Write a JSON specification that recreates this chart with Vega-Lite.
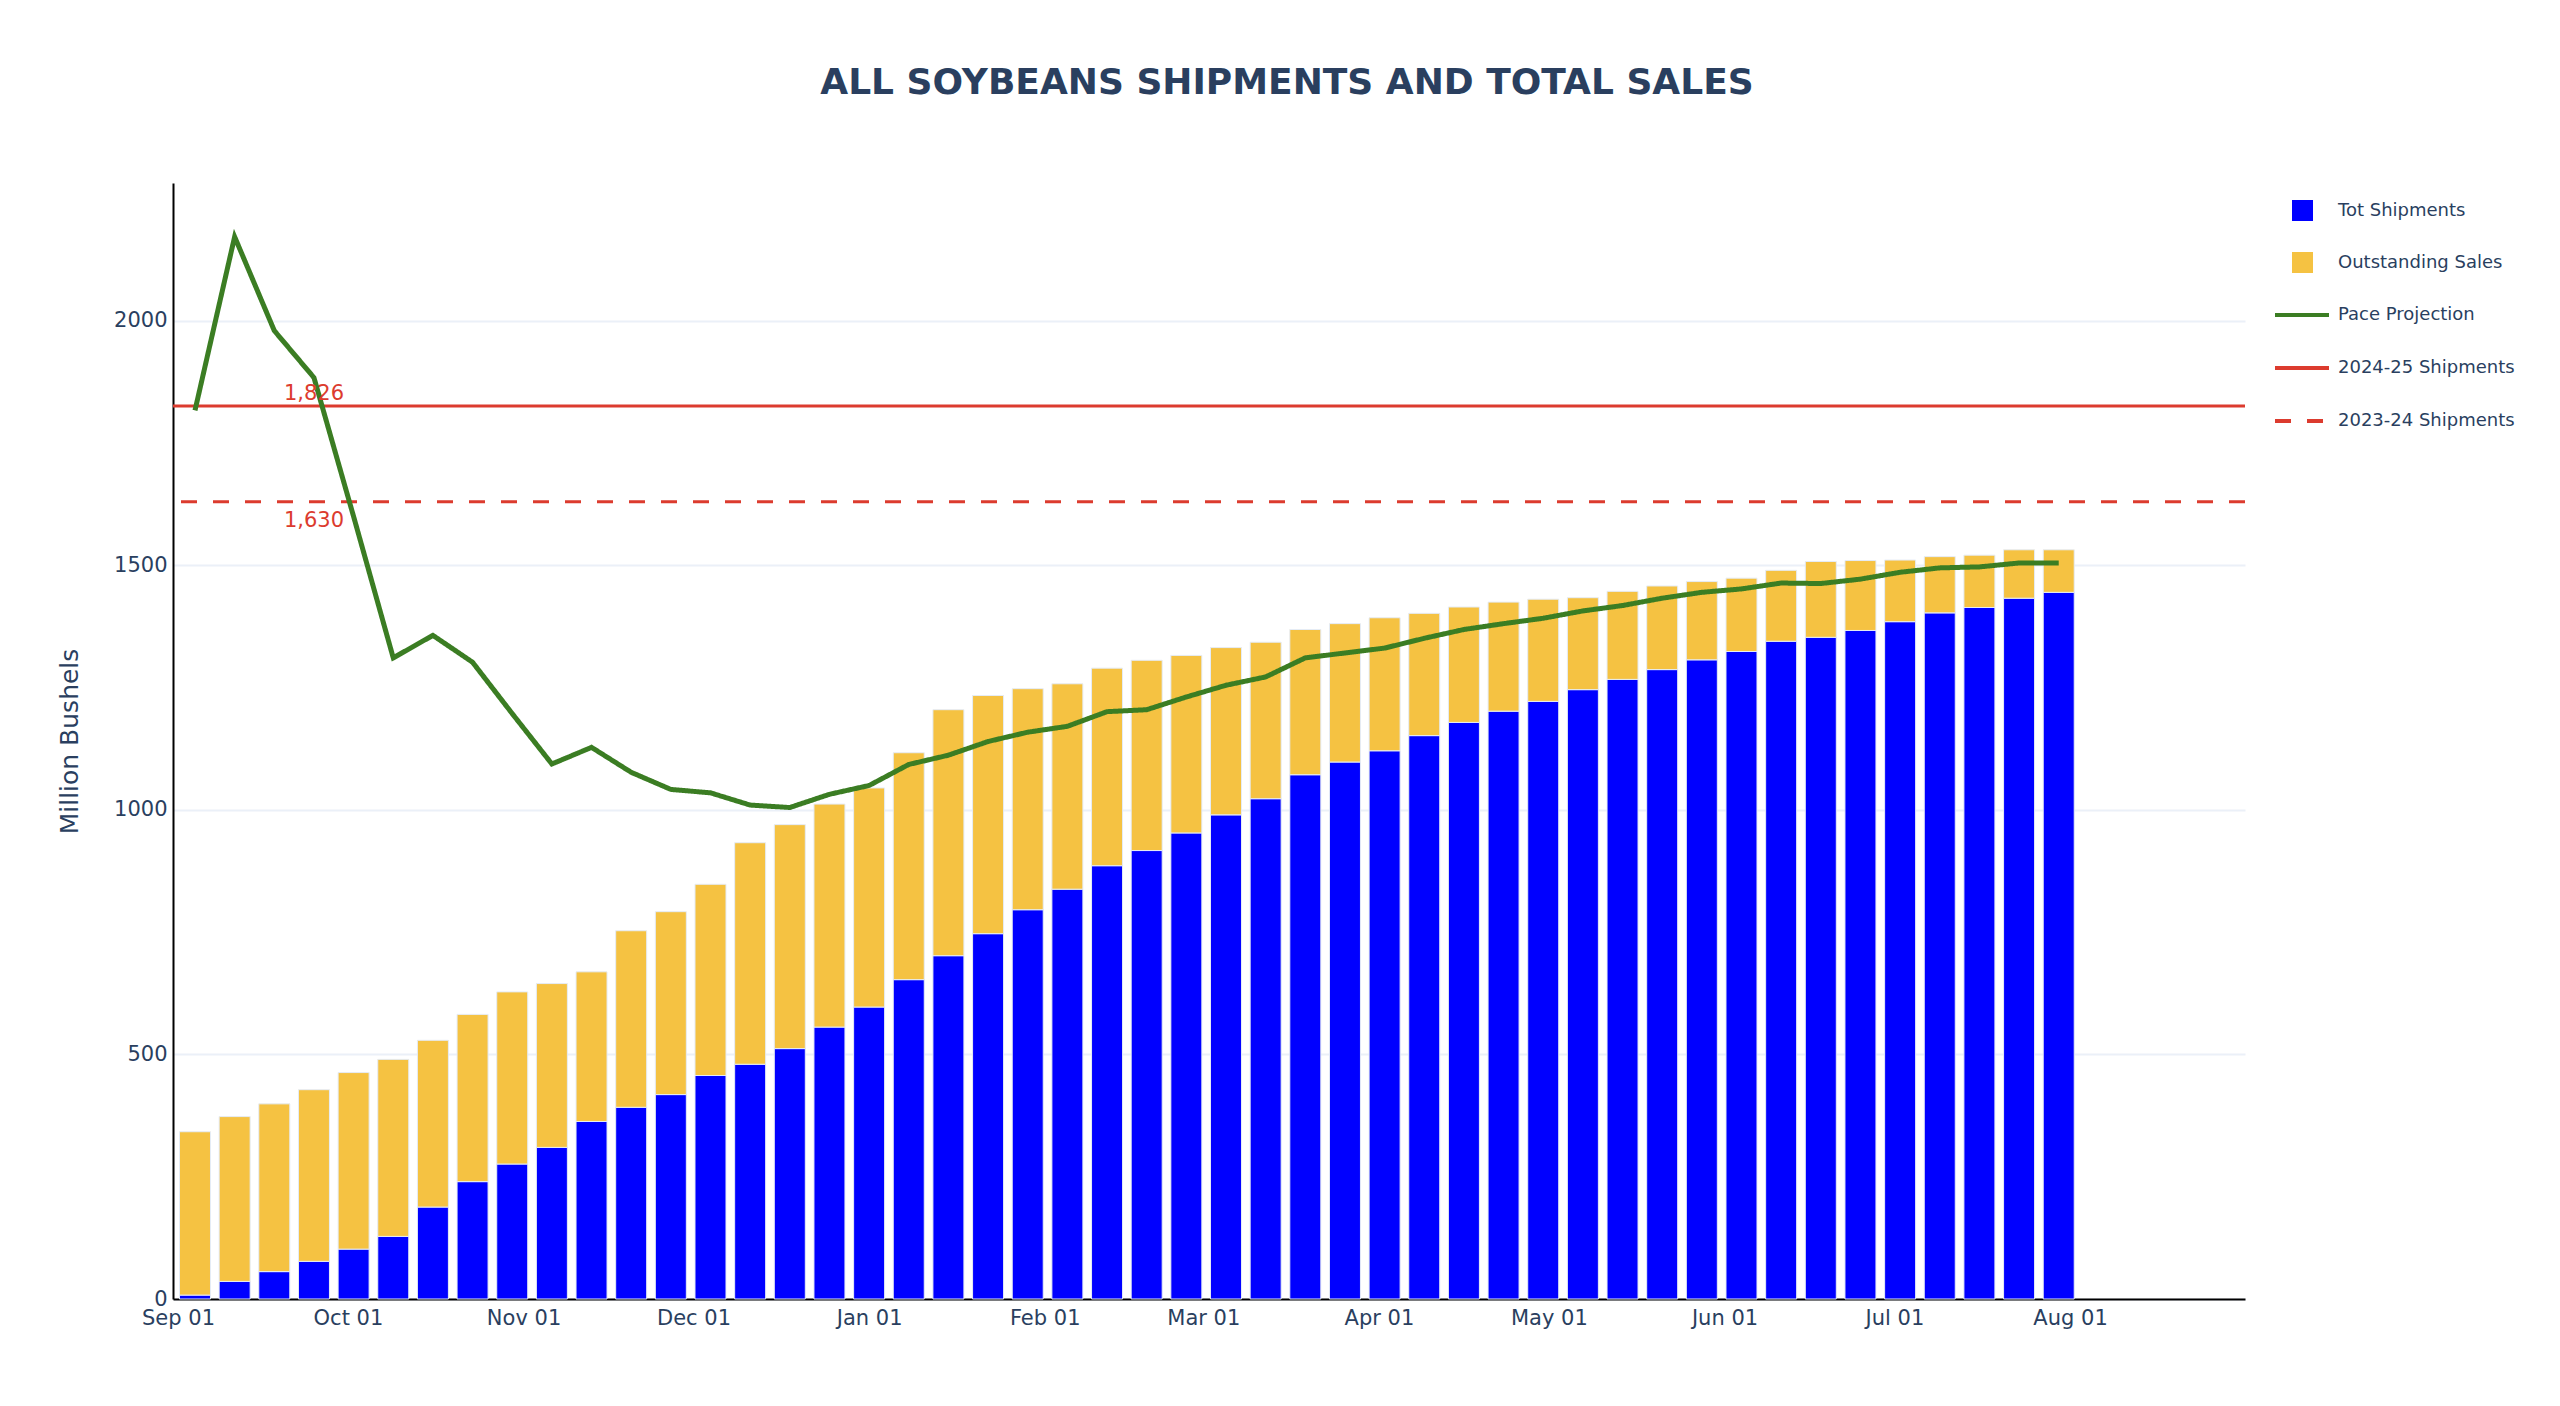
{
  "$schema": "https://vega.github.io/schema/vega-lite/v6.json",
  "width": 2072,
  "height": 1116,
  "autosize": {"type": "none"},
  "padding": {"left": 173, "top": 183, "right": 315, "bottom": 107},
  "background": "white",
  "title": {"text": "ALL SOYBEANS SHIPMENTS AND TOTAL SALES", "font": "DejaVu Sans", "fontSize": 36, "fontWeight": "bold", "color": "#2a3f5f", "anchor": "middle", "dx": 78, "offset": 81},
  "config": {"view": {"stroke": null}, "font": "DejaVu Sans"},
  "datasets": {
    "weekly": [
      {"date": "2024-09-04", "tot_shipments": 8, "total_sales": 342, "pace": 1817},
      {"date": "2024-09-11", "tot_shipments": 36, "total_sales": 373, "pace": 2172},
      {"date": "2024-09-18", "tot_shipments": 56, "total_sales": 399, "pace": 1980},
      {"date": "2024-09-25", "tot_shipments": 77, "total_sales": 428, "pace": 1884},
      {"date": "2024-10-02", "tot_shipments": 102, "total_sales": 463, "pace": 1600},
      {"date": "2024-10-09", "tot_shipments": 128, "total_sales": 490, "pace": 1311},
      {"date": "2024-10-16", "tot_shipments": 188, "total_sales": 529, "pace": 1357},
      {"date": "2024-10-23", "tot_shipments": 240, "total_sales": 582, "pace": 1302},
      {"date": "2024-10-30", "tot_shipments": 276, "total_sales": 628, "pace": 1197},
      {"date": "2024-11-06", "tot_shipments": 310, "total_sales": 645, "pace": 1094},
      {"date": "2024-11-13", "tot_shipments": 363, "total_sales": 669, "pace": 1128},
      {"date": "2024-11-20", "tot_shipments": 392, "total_sales": 753, "pace": 1077},
      {"date": "2024-11-27", "tot_shipments": 418, "total_sales": 792, "pace": 1042},
      {"date": "2024-12-04", "tot_shipments": 457, "total_sales": 848, "pace": 1035},
      {"date": "2024-12-11", "tot_shipments": 480, "total_sales": 933, "pace": 1010},
      {"date": "2024-12-18", "tot_shipments": 512, "total_sales": 970, "pace": 1005},
      {"date": "2024-12-25", "tot_shipments": 556, "total_sales": 1012, "pace": 1032},
      {"date": "2025-01-01", "tot_shipments": 597, "total_sales": 1045, "pace": 1050},
      {"date": "2025-01-08", "tot_shipments": 653, "total_sales": 1117, "pace": 1093},
      {"date": "2025-01-15", "tot_shipments": 702, "total_sales": 1205, "pace": 1112},
      {"date": "2025-01-22", "tot_shipments": 747, "total_sales": 1234, "pace": 1140},
      {"date": "2025-01-29", "tot_shipments": 796, "total_sales": 1248, "pace": 1159},
      {"date": "2025-02-05", "tot_shipments": 838, "total_sales": 1258, "pace": 1171},
      {"date": "2025-02-12", "tot_shipments": 886, "total_sales": 1290, "pace": 1201},
      {"date": "2025-02-19", "tot_shipments": 917, "total_sales": 1306, "pace": 1205},
      {"date": "2025-02-26", "tot_shipments": 953, "total_sales": 1316, "pace": 1231},
      {"date": "2025-03-05", "tot_shipments": 990, "total_sales": 1332, "pace": 1255},
      {"date": "2025-03-12", "tot_shipments": 1023, "total_sales": 1343, "pace": 1272},
      {"date": "2025-03-19", "tot_shipments": 1072, "total_sales": 1369, "pace": 1311},
      {"date": "2025-03-26", "tot_shipments": 1098, "total_sales": 1381, "pace": 1321},
      {"date": "2025-04-02", "tot_shipments": 1121, "total_sales": 1393, "pace": 1331},
      {"date": "2025-04-09", "tot_shipments": 1152, "total_sales": 1402, "pace": 1351},
      {"date": "2025-04-16", "tot_shipments": 1179, "total_sales": 1415, "pace": 1369},
      {"date": "2025-04-23", "tot_shipments": 1202, "total_sales": 1425, "pace": 1381},
      {"date": "2025-04-30", "tot_shipments": 1222, "total_sales": 1431, "pace": 1392},
      {"date": "2025-05-07", "tot_shipments": 1246, "total_sales": 1434, "pace": 1407},
      {"date": "2025-05-14", "tot_shipments": 1267, "total_sales": 1447, "pace": 1418},
      {"date": "2025-05-21", "tot_shipments": 1287, "total_sales": 1458, "pace": 1433},
      {"date": "2025-05-28", "tot_shipments": 1307, "total_sales": 1467, "pace": 1445},
      {"date": "2025-06-04", "tot_shipments": 1324, "total_sales": 1474, "pace": 1452},
      {"date": "2025-06-11", "tot_shipments": 1345, "total_sales": 1490, "pace": 1464},
      {"date": "2025-06-18", "tot_shipments": 1353, "total_sales": 1508, "pace": 1463},
      {"date": "2025-06-25", "tot_shipments": 1367, "total_sales": 1510, "pace": 1472},
      {"date": "2025-07-02", "tot_shipments": 1385, "total_sales": 1511, "pace": 1486},
      {"date": "2025-07-09", "tot_shipments": 1403, "total_sales": 1518, "pace": 1495},
      {"date": "2025-07-16", "tot_shipments": 1414, "total_sales": 1521, "pace": 1497},
      {"date": "2025-07-23", "tot_shipments": 1433, "total_sales": 1532, "pace": 1505},
      {"date": "2025-07-30", "tot_shipments": 1445, "total_sales": 1532, "pace": 1505}
    ],
    "refs": [
      {"series": "2024-25 Shipments", "value": 1826, "at": "2024-09-25"},
      {"series": "2023-24 Shipments", "value": 1630, "at": "2024-09-25"}
    ]
  },
  "layer": [
    {
      "data": {"name": "weekly"},
      "mark": {"type": "bar", "size": 31, "stroke": "#E5ECF6", "strokeWidth": 1},
      "encoding": {
        "x": {
          "field": "date", "type": "temporal",
          "scale": {"type": "utc", "domain": [{"year": 2024, "month": 9, "date": 1, "utc": true}, {"year": 2025, "month": 8, "date": 31, "utc": true}]},
          "axis": {"format": "%b %d", "tickCount": "month", "labelFlush": false, "labelOverlap": false, "ticks": false, "domainColor": "#000000", "domainWidth": 2, "grid": false, "labelFontSize": 21, "labelColor": "#2a3f5f", "labelFont": "DejaVu Sans", "labelPadding": 8, "title": null}
        },
        "y": {
          "field": "tot_shipments", "type": "quantitative",
          "scale": {"domain": [0, 2282], "nice": false, "zero": true},
          "axis": {"values": [0, 500, 1000, 1500, 2000], "format": "d", "grid": true, "gridColor": "#EBF0F8", "gridWidth": 2, "ticks": false, "domainColor": "#000000", "domainWidth": 2, "labelFontSize": 21, "labelColor": "#2a3f5f", "labelFont": "DejaVu Sans", "labelPadding": 6, "labelFlush": false, "title": "Million Bushels", "titleFont": "DejaVu Sans", "titleFontSize": 25, "titleFontWeight": "normal", "titleColor": "#2a3f5f", "titleX": -104, "titleY": 558, "titleBaseline": "middle", "titleAngle": -90, "titleAlign": "center"}
        },
        "color": {
          "datum": "Tot Shipments",
          "scale": {"domain": ["Tot Shipments", "Outstanding Sales"], "range": ["#0000ff", "#f5c242"]},
          "legend": {"orient": "none", "legendX": 2119, "legendY": 17, "title": null, "symbolType": "square", "symbolSize": 441, "symbolStrokeWidth": 0, "labelOffset": 25, "rowPadding": 31, "labelFontSize": 18, "labelLimit": 400, "labelColor": "#2a3f5f", "labelFont": "DejaVu Sans", "padding": 0}
        }
      }
    },
    {
      "data": {"name": "weekly"},
      "mark": {"type": "bar", "size": 31, "stroke": "#E5ECF6", "strokeWidth": 1},
      "encoding": {
        "x": {"field": "date", "type": "temporal"},
        "y": {"field": "total_sales", "type": "quantitative"},
        "y2": {"field": "tot_shipments"},
        "color": {"datum": "Outstanding Sales"}
      }
    },
    {
      "data": {"name": "refs"},
      "mark": {"type": "rule", "strokeWidth": 3},
      "encoding": {
        "y": {"field": "value", "type": "quantitative"},
        "stroke": {"field": "series", "type": "nominal", "title": null},
        "strokeDash": {"field": "series", "type": "nominal", "title": null}
      }
    },
    {
      "data": {"name": "weekly"},
      "mark": {"type": "line", "strokeWidth": 5},
      "encoding": {
        "x": {"field": "date", "type": "temporal"},
        "y": {"field": "pace", "type": "quantitative"},
        "stroke": {
          "datum": "Pace Projection",
          "title": null,
          "scale": {"domain": ["Pace Projection", "2024-25 Shipments", "2023-24 Shipments"], "range": ["#3b7d23", "#dc3b2e", "#dc3b2e"]},
          "legend": {"orient": "none", "legendX": 2100, "legendY": 103, "title": null, "symbolType": "stroke", "symbolSize": 2916, "symbolStrokeWidth": 4, "labelOffset": 7, "rowPadding": 15, "labelFontSize": 18, "labelLimit": 400, "labelColor": "#2a3f5f", "labelFont": "DejaVu Sans", "padding": 0}
        },
        "strokeDash": {
          "datum": "Pace Projection",
          "title": null,
          "scale": {"domain": ["Pace Projection", "2024-25 Shipments", "2023-24 Shipments"], "range": [[1, 0], [1, 0], [16, 16]]},
          "legend": {"orient": "none", "legendX": 2100, "legendY": 103, "title": null, "symbolType": "stroke", "symbolSize": 2916, "symbolStrokeWidth": 4, "labelOffset": 7, "rowPadding": 15, "labelFontSize": 18, "labelLimit": 400, "labelColor": "#2a3f5f", "labelFont": "DejaVu Sans", "padding": 0}
        }
      }
    },
    {
      "data": {"name": "refs"},
      "transform": [{"filter": "datum.series == '2024-25 Shipments'"}],
      "mark": {"type": "text", "fontSize": 21, "font": "DejaVu Sans", "color": "#dc3b2e", "baseline": "alphabetic", "dy": -6},
      "encoding": {
        "x": {"field": "at", "type": "temporal"},
        "y": {"field": "value", "type": "quantitative"},
        "text": {"field": "value", "type": "quantitative", "format": ","}
      }
    },
    {
      "data": {"name": "refs"},
      "transform": [{"filter": "datum.series == '2023-24 Shipments'"}],
      "mark": {"type": "text", "fontSize": 21, "font": "DejaVu Sans", "color": "#dc3b2e", "baseline": "alphabetic", "dy": 25},
      "encoding": {
        "x": {"field": "at", "type": "temporal"},
        "y": {"field": "value", "type": "quantitative"},
        "text": {"field": "value", "type": "quantitative", "format": ","}
      }
    }
  ]
}
